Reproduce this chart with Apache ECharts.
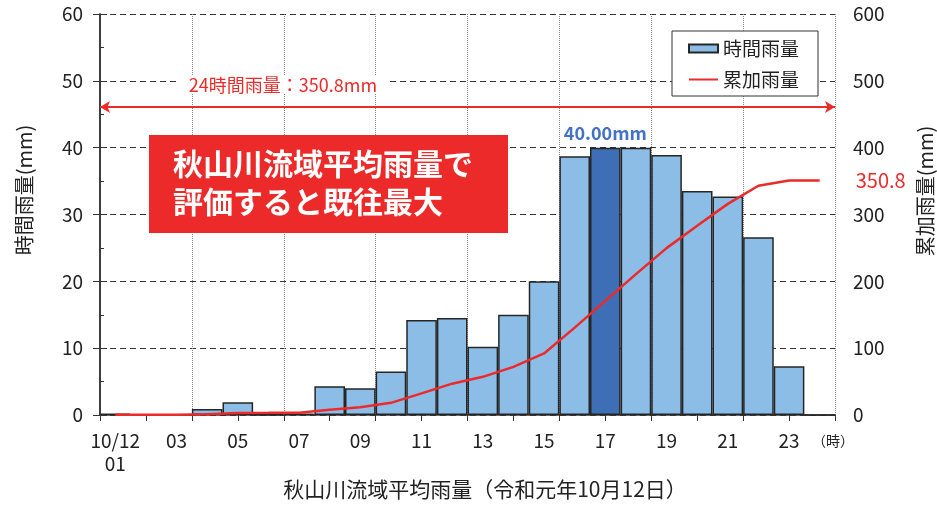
<!DOCTYPE html>
<html>
<head>
<meta charset="utf-8">
<title>秋山川流域平均雨量</title>
<script src="https://cdn.jsdelivr.net/npm/echarts@6.0.0/dist/echarts.min.js"></script>
<style>
    html, body { margin: 0; padding: 0; background: #fff; }
    #charts { width: 937px; height: 508px; }
</style>
</head>
<body>
<div id="charts"></div>
<script>
var hours = ['01','02','03','04','05','06','07','08','09','10','11','12',
             '13','14','15','16','17','18','19','20','21','22','23','24'];
var xLabels = ['10/12\n01','','03','','05','','07','','09','','11','',
               '13','','15','','17','','19','','21','','23',''];
// 時間雨量 (mm)
var hourlyRain = [0.2, 0, 0.1, 0.9, 1.9, 0.1, 0.2, 4.3, 4.0, 6.5, 14.2, 14.5,
                  10.2, 15.0, 20.0, 38.7, 40.0, 40.0, 38.9, 33.5, 32.7, 26.6, 7.3, 0];
// 累加雨量 (mm)
var totalRain = [0.2, 0.2, 0.3, 1.2, 3.1, 3.2, 3.4, 7.7, 11.7, 18.2, 32.4, 46.9,
                 57.1, 72.1, 92.1, 130.8, 170.8, 210.8, 249.7, 283.2, 315.9, 343.0, 350.8, 350.8];
var peakIndex = 16;
var arrowLevel = 46.1;

var FONT = '"Noto Sans CJK JP", "Noto Sans", sans-serif';
var RED = '#ED2A2A';
var chart = echarts.init(document.getElementById('charts'));

var barData = [];
for (var i = 0; i < hourlyRain.length; i++) {
    if (i === peakIndex) {
        barData.push({
            value: hourlyRain[i],
            itemStyle: { color: '#3E6FB6' },
            label: {
                show: true,
                position: 'top',
                distance: 6,
                formatter: function (p) { return p.value.toFixed(2) + 'mm'; },
                color: '#4472C4',
                fontSize: 18,
                fontWeight: 'bold'
            }
        });
    } else {
        barData.push(hourlyRain[i]);
    }
}

var option = {
    animation: false,
    textStyle: { fontFamily: FONT },
    grid: { left: 100, right: 102, top: 14, bottom: 93 },
    legend: {
        orient: 'vertical',
        left: 672,
        top: 31,
        padding: [8, 19, 7, 16],
        itemGap: 12,
        itemWidth: 29,
        itemHeight: 8,
        backgroundColor: '#fff',
        borderColor: '#333',
        borderWidth: 1,
        borderRadius: 0,
        textStyle: { fontSize: 19, color: '#222', fontFamily: FONT },
        data: [
            { name: '時間雨量', icon: 'rect' },
            { name: '累加雨量', itemStyle: { opacity: 0 } }
        ]
    },
    xAxis: [
        {
            type: 'category',
            data: hours,
            boundaryGap: true,
            axisLine: { lineStyle: { color: '#333', width: 1.5 } },
            axisTick: { show: false },
            axisLabel: {
                interval: 0,
                margin: 14,
                fontSize: 19,
                lineHeight: 23,
                color: '#222',
                formatter: function (v, idx) { return xLabels[idx]; }
            },
            splitLine: { show: false }
        },
        {
            // 目盛り（1.5時間ごと）
            type: 'value',
            min: 0, max: 24, interval: 1.5,
            position: 'bottom',
            axisLine: { show: false },
            axisTick: { show: true, length: 6, lineStyle: { color: '#333' } },
            axisLabel: { show: false },
            splitLine: { show: false }
        },
        {
            // 縦の補助線（3時間ごと）
            type: 'value',
            min: 0, max: 24, interval: 3,
            position: 'bottom',
            axisLine: { show: false },
            axisTick: { show: false },
            axisLabel: { show: false },
            splitLine: { show: true, lineStyle: { color: '#888', width: 1, type: [1, 1] } }
        }
    ],
    yAxis: [
        {
            type: 'value',
            min: 0, max: 60, interval: 10,
            position: 'left',
            axisLine: { show: true, lineStyle: { color: '#333', width: 1.5 } },
            axisTick: { show: true, length: 7, lineStyle: { color: '#333' } },
            axisLabel: { margin: 17, fontSize: 19, color: '#222' },
            splitLine: { show: true, lineStyle: { color: '#333', width: 1, type: [6, 4] } }
        },
        {
            type: 'value',
            min: 0, max: 600, interval: 100,
            position: 'right',
            axisLine: { show: true, lineStyle: { color: '#333', width: 1.5 } },
            axisTick: { show: true, length: 7, lineStyle: { color: '#333' } },
            axisLabel: { margin: 18, fontSize: 19, color: '#222' },
            splitLine: { show: false }
        },
        {
            // 小目盛り（内向き）
            type: 'value',
            min: 0, max: 60, interval: 5,
            position: 'left',
            axisLine: { show: false },
            axisTick: { show: true, inside: true, length: 4, lineStyle: { color: '#333' } },
            axisLabel: { show: false },
            splitLine: { show: false }
        }
    ],
    series: [
        {
            name: '時間雨量',
            type: 'bar',
            xAxisIndex: 0,
            yAxisIndex: 0,
            barCategoryGap: '0%',
            itemStyle: { color: '#8BBDE6', borderColor: '#262626', borderWidth: 1.5 },
            data: barData,
            markLine: {
                silent: true,
                symbol: ['arrow', 'arrow'],
                symbolSize: [9, 10],
                label: { show: false },
                lineStyle: { color: RED, width: 2, type: 'solid' },
                emphasis: { disabled: true },
                data: [{ yAxis: arrowLevel }]
            }
        },
        {
            name: '累加雨量',
            type: 'line',
            xAxisIndex: 0,
            yAxisIndex: 1,
            symbol: 'none',
            color: RED,
            lineStyle: { color: RED, width: 2.5 },
            endLabel: {
                show: true,
                distance: 36,
                color: RED,
                fontSize: 20,
                formatter: function (p) { return p.value; }
            },
            data: totalRain
        }
    ],
    graphic: [
        {
            type: 'text', x: 283, y: 85, z: 10,
            style: {
                text: '24時間雨量：350.8mm', fill: RED, font: '18px ' + FONT,
                align: 'center', verticalAlign: 'middle',
                backgroundColor: '#fff', padding: [0, 10]
            }
        },
        {
            type: 'rect', left: 149, top: 135, z: 10,
            shape: { width: 359, height: 98 },
            style: { fill: RED }
        },
        {
            type: 'text', left: 173, top: 145, z: 11,
            style: {
                text: '秋山川流域平均雨量で\n評価すると既往最大',
                fill: '#fff', font: 'bold 30px ' + FONT, lineHeight: 38
            }
        },
        {
            type: 'text', x: 24, y: 190, rotation: Math.PI / 2,
            style: {
                text: '時間雨量(mm)', fill: '#222', font: '20px ' + FONT,
                align: 'center', verticalAlign: 'middle'
            }
        },
        {
            type: 'text', x: 925, y: 191, rotation: Math.PI / 2,
            style: {
                text: '累加雨量(mm)', fill: '#222', font: '20px ' + FONT,
                align: 'center', verticalAlign: 'middle'
            }
        },
        {
            type: 'text', x: 833, y: 441,
            style: {
                text: '（時）', fill: '#222', font: '14px ' + FONT,
                align: 'center', verticalAlign: 'middle'
            }
        },
        {
            type: 'text', x: 485, y: 489,
            style: {
                text: '秋山川流域平均雨量（令和元年10月12日）', fill: '#222', font: '21px ' + FONT,
                align: 'center', verticalAlign: 'middle'
            }
        }
    ]
};

chart.setOption(option);
</script>
</body>
</html>
